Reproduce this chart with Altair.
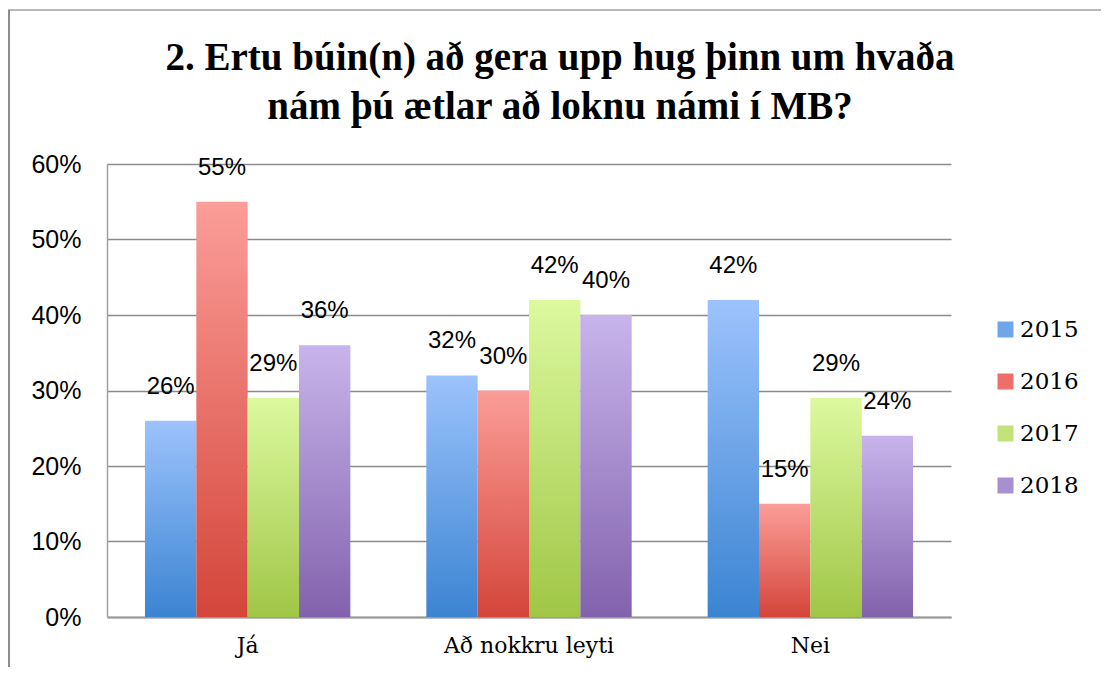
import altair as alt
import pandas as pd

categories = ["Já", "Að nokkru leyti", "Nei"]
years = ["2015", "2016", "2017", "2018"]
v2015 = [0.26, 0.32, 0.42]
v2016 = [0.55, 0.30, 0.15]
v2017 = [0.29, 0.42, 0.29]
v2018 = [0.36, 0.40, 0.24]
y_ticks = [0, 0.1, 0.2, 0.3, 0.4, 0.5, 0.6]
title_lines = ["2. Ertu búin(n) að gera upp hug þinn um hvaða", "nám þú ætlar að loknu námi í MB?"]

top_colors = ["#9cc3fc", "#fb9d98", "#dcf99f", "#c8b4ec"]
bottom_colors = ["#3b84d2", "#d4453a", "#a0c646", "#8262ac"]
legend_colors = ["#6fa6ea", "#ee6f68", "#c2e27a", "#a88fd0"]

series = {"2015": v2015, "2016": v2016, "2017": v2017, "2018": v2018}
rows = []
for yr in years:
    for c, v in zip(categories, series[yr]):
        rows.append({"cat": c, "year": yr, "value": v})
df = pd.DataFrame(rows)

x_enc = alt.X(
    "cat:N",
    sort=categories,
    scale=alt.Scale(paddingInner=0.27, paddingOuter=0.135),
    axis=alt.Axis(
        title=None,
        labelAngle=0,
        labelFont="DejaVu Serif, serif",
        labelFontSize=22,
        labelColor="#000000",
        labelPadding=18,
        ticks=False,
        domainColor="#999999",
        domainWidth=2,
    ),
)
xo_enc = alt.XOffset("year:N", sort=years, scale=alt.Scale(domain=years, paddingInner=0, paddingOuter=0))
y_enc = alt.Y(
    "value:Q",
    scale=alt.Scale(domain=[0, 0.6], nice=False),
    axis=alt.Axis(
        title=None,
        values=y_ticks,
        format=".0%",
        labelFont="Liberation Sans, Arial, sans-serif",
        labelFontSize=25,
        labelColor="#000000",
        labelPadding=26,
        ticks=False,
        grid=True,
        gridColor="#8c8c8c",
        gridWidth=1.5,
        domainColor="#a0a0a0",
        domainWidth=1.5,
    ),
)

base = alt.Chart(df)
layers = []
for i, yr in enumerate(years):
    grad = alt.Gradient(
        gradient="linear",
        stops=[
            alt.GradientStop(color=top_colors[i], offset=0),
            alt.GradientStop(color=bottom_colors[i], offset=1),
        ],
        x1=0, x2=0, y1=0, y2=1,
    )
    layers.append(
        base.transform_filter(alt.datum.year == yr)
        .mark_bar(fill=grad)
        .encode(x=x_enc, xOffset=xo_enc, y=y_enc)
    )

labels = base.mark_text(
    baseline="bottom",
    dy=-22,
    font="Liberation Sans, Arial, sans-serif",
    fontSize=24,
    color="#000000",
).encode(x=x_enc, xOffset=xo_enc, y=y_enc, text=alt.Text("value:Q", format=".0%"))

legend_layer = base.mark_point(shape="square", filled=True, opacity=0).encode(
    x=x_enc,
    xOffset=xo_enc,
    y=y_enc,
    color=alt.Color(
        "year:N",
        sort=years,
        scale=alt.Scale(domain=years, range=legend_colors),
        legend=alt.Legend(
            title=None,
            orient="none",
            legendX=887,
            legendY=154,
            symbolType="square",
            symbolSize=256,
            symbolOpacity=1,
            symbolStrokeWidth=0,
            labelFont="DejaVu Serif, serif",
            labelFontSize=23,
            labelColor="#000000",
            labelOffset=3,
            rowPadding=28,
        ),
    ),
)

one = pd.DataFrame({"k": [0]})
frame_top = alt.Chart(one).mark_rule(color="#a0a0a0", strokeWidth=1.5).encode(
    x=alt.value(-99), x2=alt.value(1002), y=alt.value(-154)
)
frame_left = alt.Chart(one).mark_rule(color="#8c8c8c", strokeWidth=2).encode(
    x=alt.value(-98), y=alt.value(-154), y2=alt.value(511)
)

title_layers = []
for line, ypos in zip(title_lines, [-94, -45]):
    title_layers.append(
        alt.Chart(one)
        .mark_text(
            font="Liberation Serif, serif",
            fontSize=39,
            fontWeight="bold",
            color="#000000",
            align="center",
            baseline="alphabetic",
        )
        .encode(x=alt.value(453), y=alt.value(ypos), text=alt.value(line))
    )

chart = (
    alt.layer(*layers, labels, legend_layer, frame_top, frame_left, *title_layers)
    .properties(
        width=844,
        height=453,
        padding={"left": 99, "top": 156, "right": 150, "bottom": 50},
        autosize=alt.AutoSizeParams(type="none"),
    )
    .configure_view(stroke=None)
)

chart.save("out.html", embed_options={"renderer": "svg", "actions": False})
